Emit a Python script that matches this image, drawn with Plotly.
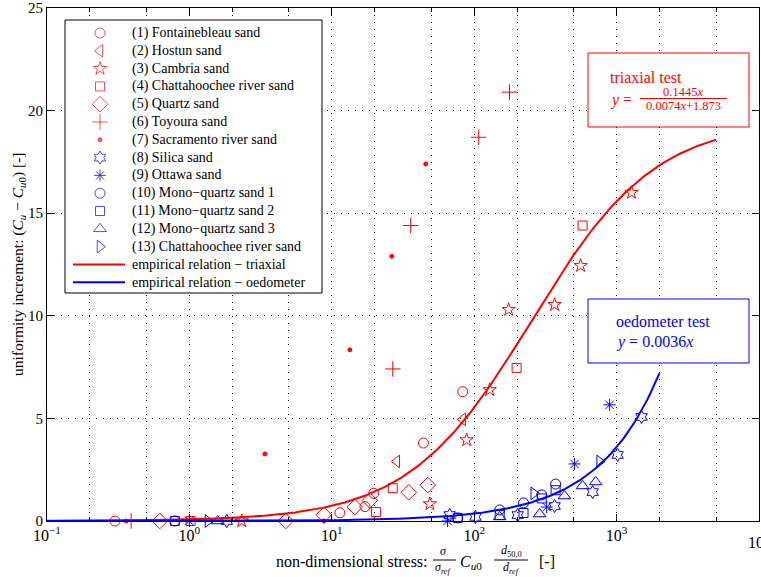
import numpy as np
import plotly.graph_objects as go

# ---------------- data ----------------
fontainebleau_x = [0.30, 11.4, 17.1, 19.7, 44.0, 83.0]
fontainebleau_y = [0.0, 0.40, 0.70, 1.35, 3.80, 6.30]

hostun_x = [28.6, 83.0]
hostun_y = [2.90, 4.95]

cambria_x = [2.33, 48.8, 88.5, 128.5, 174.6, 367.0, 559.0, 1274.0]
cambria_y = [0.0, 0.83, 3.95, 6.39, 10.30, 10.54, 12.44, 16.0]

chatta_red_x = [1.02, 20.4, 26.8, 198.6, 577.0]
chatta_red_y = [0.0, 0.44, 1.60, 7.46, 14.4]

quartz_x = [0.62, 4.75, 8.8, 14.5, 18.5, 34.7, 47.2]
quartz_y = [0.0, 0.0, 0.30, 0.68, 1.0, 1.40, 1.75]

toyoura_x = [0.39, 26.8, 35.8, 107.6, 177.0]
toyoura_y = [0.0, 7.41, 14.4, 18.7, 20.9]

sacramento_x = [0.36, 3.39, 8.8, 13.4, 26.4, 45.7]
sacramento_y = [0.0, 3.27, 0.0, 8.34, 12.9, 17.4]

silica_x = [1.83, 67.3, 102.0, 202.0, 367.0, 679.0, 1016.0, 1497.0]
silica_y = [0.0, 0.29, 0.20, 0.29, 0.73, 1.41, 3.22, 5.07]

ottawa_x = [1.0, 65.0, 323.0, 507.0, 893.0]
ottawa_y = [0.0, 0.0, 0.68, 2.78, 5.66]

mono1_x = [0.79, 76.6, 151.0, 222.0, 298.0, 373.0]
mono1_y = [0.0, 0.15, 0.54, 0.88, 1.27, 1.80]

mono2_x = [0.79, 76.6, 151.0, 222.0, 298.0, 373.0]
mono2_y = [0.0, 0.15, 0.29, 0.39, 1.10, 1.50]

mono3_x = [1.58, 151.0, 288.0, 431.0, 577.0, 713.0]
mono3_y = [0.0, 0.20, 0.34, 1.22, 1.71, 1.90]

chatta_blue_x = [1.35, 262.0, 760.0]
chatta_blue_y = [0.0, 1.35, 2.90]

# empirical relations stated in the chart
tri_a, tri_b, tri_c = 0.1445, 0.0074, 1.873
tri_xmin, tri_xmax = 0.1, 5000.0
oed_k = 0.0036
oed_xmin, oed_xmax = 0.1, 2000.0

x_tickvals = [0.1, 1, 10, 100, 1000]
x_ticktext = ["10<sup>−1</sup>", "10<sup>0</sup>", "10<sup>1</sup>",
              "10<sup>2</sup>", "10<sup>3</sup>"]
y_tickvals = [0, 5, 10, 15, 20, 25]

# ---------------- figure ----------------
RED = "#ff0000"
BLUE = "#0000ff"
FONT = "'Liberation Serif', 'Times New Roman', serif"

series = [
    ("(1) Fontainebleau sand", fontainebleau_x, fontainebleau_y, "circle-open", RED, 10),
    ("(2) Hostun sand", hostun_x, hostun_y, "triangle-left-open", RED, 11),
    ("(3) Cambria sand", cambria_x, cambria_y, "star-open", RED, 10),
    ("(4) Chattahoochee river sand", chatta_red_x, chatta_red_y, "square-open", RED, 9),
    ("(5) Quartz sand", quartz_x, quartz_y, "diamond-open", RED, 12),
    ("(6) Toyoura sand", toyoura_x, toyoura_y, "cross-thin-open", RED, 11),
    ("(7) Sacramento river sand", sacramento_x, sacramento_y, "circle", RED, 4),
    ("(8) Silica sand", silica_x, silica_y, "hexagram-open", BLUE, 10),
    ("(9) Ottawa sand", ottawa_x, ottawa_y, "asterisk-open", BLUE, 10),
    ("(10) Mono−quartz sand 1", mono1_x, mono1_y, "circle-open", BLUE, 10),
    ("(11) Mono−quartz sand 2", mono2_x, mono2_y, "square-open", BLUE, 9),
    ("(12) Mono−quartz sand 3", mono3_x, mono3_y, "triangle-up-open", BLUE, 11),
    ("(13) Chattahoochee river sand", chatta_blue_x, chatta_blue_y, "triangle-right-open", BLUE, 11),
]
line_items = [("empirical relation − triaxial", RED),
              ("empirical relation − oedometer", BLUE)]

fig = go.Figure()
for name, xs, ys, sym, col, size in series:
    fig.add_trace(go.Scatter(
        x=xs, y=ys, mode="markers", name=name, cliponaxis=False, showlegend=False,
        marker=dict(symbol=sym, size=size, color=col,
                    line=dict(color=col, width=1)),
    ))

xt = np.logspace(np.log10(tri_xmin), np.log10(tri_xmax), 300)
yt = tri_a * xt / (tri_b * xt + tri_c)
fig.add_trace(go.Scatter(x=xt, y=yt, mode="lines", name=line_items[0][0], showlegend=False,
                         line=dict(color=RED, width=2)))
xo = np.logspace(np.log10(oed_xmin), np.log10(oed_xmax), 300)
yo = oed_k * xo
fig.add_trace(go.Scatter(x=xo, y=yo, mode="lines", name=line_items[1][0], showlegend=False,
                         line=dict(color=BLUE, width=2)))

# plot area in pixels
L, R, T, B = 47, 759, 8, 521
W, H = 761, 577


def px(xp):
    return (xp - L) / (R - L)


def py(yp):
    return (B - yp) / (B - T)


shapes = []
annotations = []


def txt(x, y, s, size, color="black", anchor="left", angle=0):
    annotations.append(dict(x=px(x), y=py(y), xref="paper", yref="paper", text=s,
                            showarrow=False, xanchor=anchor, yanchor="middle",
                            textangle=angle,
                            font=dict(family=FONT, size=size, color=color)))


def hline(x0, x1, y, color, width=1):
    shapes.append(dict(type="line", xref="paper", yref="paper", x0=px(x0), x1=px(x1),
                       y0=py(y), y1=py(y), line=dict(color=color, width=width),
                       layer="above"))


def box(x0, y0, x1, y1, color):
    # white filled frame drawn on the overlay (pixel) axes, above the grid
    fig.add_trace(go.Scatter(
        x=[x0, x1, x1, x0, x0], y=[y0, y0, y1, y1, y0], xaxis="x2", yaxis="y2",
        mode="lines", fill="toself", fillcolor="white", showlegend=False,
        hoverinfo="skip", cliponaxis=False, line=dict(color=color, width=1)))


# ---- manual legend (pixel layout) ----
box(65, 20, 322, 293, "black")
row0, drow = 33, 17.8
leg_x, leg_y, leg_sym, leg_col, leg_size = [], [], [], [], []
for i, (name, xs, ys, sym, col, size) in enumerate(series):
    yy = row0 + i * drow
    leg_x.append(100)
    leg_y.append(yy)
    leg_sym.append(sym)
    leg_col.append(col)
    leg_size.append(size)
    txt(130, yy, name, 14)
for j, (name, col) in enumerate(line_items):
    yy = row0 + (len(series) + j) * drow
    hline(73, 125, yy, col, 2)
    txt(130, yy, name, 14)

fig.add_trace(go.Scatter(
    x=leg_x, y=leg_y, xaxis="x2", yaxis="y2", mode="markers", showlegend=False,
    hoverinfo="skip", cliponaxis=False,
    marker=dict(symbol=leg_sym, size=leg_size, color=leg_col,
                line=dict(color=leg_col, width=1)),
))

# ---- triaxial box ----
box(588, 53, 749, 127, RED)
txt(608, 77, "triaxial test", 16, RED)
txt(608, 100, "<i>y</i> =", 16, RED)
txt(683, 92, "0.1445<i>x</i>", 12.5, RED, "center")
hline(640, 727, 98.5, RED, 1)
txt(683, 106, "0.0074<i>x</i>+1.873", 12.5, RED, "center")

# ---- oedometer box ----
box(588, 299, 749, 363, BLUE)
txt(614, 321, "oedometer test", 16, BLUE)
txt(614, 342, "<i>y</i> = 0.0036<i>x</i>", 16, BLUE)

# ---- x axis title (with fractions) ----
txt(430, 561, "non-dimensional stress:", 16, "black", "right")
txt(444, 551, "<i>σ</i>", 12, "black", "center")
hline(433, 456, 560, "black", 1)
txt(444, 568, "<i>σ</i><sub><i>ref</i></sub>", 12, "black", "center")
txt(458, 562, "<i>C</i><sub><i>u</i>0</sub>", 16, "black", "left")
txt(511, 551, "<i>d</i><sub>50,0</sub>", 12, "black", "center")
hline(494, 528, 560, "black", 1)
txt(511, 568, "<i>d</i><sub><i>ref</i></sub>", 12, "black", "center")
txt(537, 561, "[-]", 16, "black", "left")

# ---- y axis title ----
txt(18, 265, "uniformity increment: (<i>C<sub>u</sub></i> − <i>C</i><sub><i>u</i>0</sub>) [-]",
    15.5, "black", "center", -90)

# clipped 10^4 label at the right edge
txt(759, 541, "10<sup>4</sup>", 16, "black", "center")

DOT = "1px,6px"

fig.update_layout(
    width=W, height=H,
    margin=dict(l=L, r=W - R, t=T, b=H - B, autoexpand=False),
    paper_bgcolor="white", plot_bgcolor="white",
    font=dict(family=FONT, size=15, color="black"),
    showlegend=False,
    shapes=shapes,
    annotations=annotations,
    xaxis=dict(
        type="log", range=[-1, 4], automargin=False,
        tickvals=x_tickvals, ticktext=x_ticktext,
        ticks="inside", ticklen=7, tickcolor="black",
        showline=True, linecolor="black", linewidth=1, mirror="allticks",
        showgrid=True, gridcolor="black", gridwidth=1, griddash=DOT,
        minor=dict(ticks="inside", ticklen=4, tickcolor="black",
                   showgrid=True, gridcolor="black", gridwidth=1, griddash=DOT),
        tickfont=dict(family=FONT, size=16, color="black"),
        zeroline=False,
    ),
    yaxis=dict(
        range=[0, 25], tickvals=y_tickvals, automargin=False,
        ticks="inside", ticklen=7, tickcolor="black",
        showline=True, linecolor="black", linewidth=1, mirror="allticks",
        showgrid=True, gridcolor="black", gridwidth=1, griddash=DOT,
        tickfont=dict(family=FONT, size=15, color="black"),
        zeroline=False,
    ),
    xaxis2=dict(overlaying="x", range=[L, R], visible=False, fixedrange=True,
                automargin=False),
    yaxis2=dict(overlaying="y", range=[B, T], visible=False, fixedrange=True,
                automargin=False),
)

fig.write_html("out.html", config={"displayModeBar": False},
               post_script="document.body.style.margin='0';document.body.style.padding='0';")
